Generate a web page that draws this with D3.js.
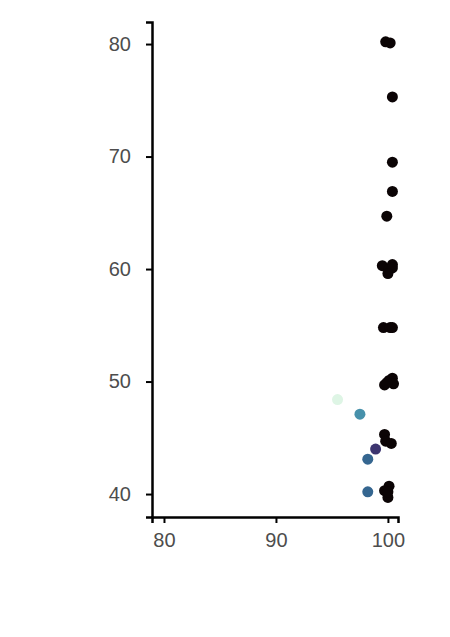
<!DOCTYPE html>
<html>
<head>
<meta charset="UTF-8">
<script src="https://cdn.jsdelivr.net/npm/d3@7"></script>
<style>body{margin:0;background:#fff}</style>
</head>
<body>
<svg id="mainsvg" width="450" height="637"></svg>
<script>
const xs = [99.8,100.2,100.4,100.4,100.4,99.9,99.5,100.1,100.4,100.4,100.0,99.6,100.2,100.4,
            99.7,100.1,100.4,100.5,99.9,95.5,97.5,99.7,99.8,100.3,98.9,98.2,100.1,99.7,100.0,100.0,98.2];
const ys = [80.2,80.1,75.3,69.5,66.9,64.7,60.3,60.0,60.4,60.1,59.6,54.8,54.8,54.8,
            49.7,50.1,50.3,49.8,49.9,48.4,47.1,45.3,44.7,44.5,44.0,43.1,40.7,40.3,39.7,40.2,40.2];
const xTicks = [80, 90, 100];
const yTicks = [40, 50, 60, 70, 80];

const svg = d3.select("#mainsvg");
const x = d3.scaleLinear().domain([78.93, 100.9]).range([152, 398]);
const y = d3.scaleLinear().domain([37.96, 81.96]).range([517, 22]);
const color = d3.scaleLinear()
    .domain([95.5, 97.8, 98.9, 99.4])
    .range(["#def5e5", "#3082a2", "#3d3570", "#0b0405"])
    .clamp(true);

const xAxis = svg.append("g").attr("transform", "translate(0,517)")
    .call(d3.axisBottom(x).tickValues(xTicks).tickSize(6).tickPadding(10));
const yAxis = svg.append("g").attr("transform", "translate(152,0)")
    .call(d3.axisLeft(y).tickValues(yTicks).tickSize(6).tickPadding(15));
[xAxis, yAxis].forEach(a => {
    a.select(".domain").attr("stroke", "#000").attr("stroke-width", 2.5);
    a.selectAll(".tick line").attr("stroke", "#000").attr("stroke-width", 2);
    a.selectAll("text").attr("fill", "#4d4d4d").attr("font-size", 20)
        .attr("font-family", "Liberation Sans, Arial, sans-serif");
});

svg.append("g").selectAll("circle")
    .data(xs.map((v, i) => ({x: v, y: ys[i]})))
    .join("circle")
    .attr("cx", d => x(d.x))
    .attr("cy", d => y(d.y))
    .attr("r", 5.5)
    .attr("fill", d => color(d.x));
</script>
</body>
</html>
